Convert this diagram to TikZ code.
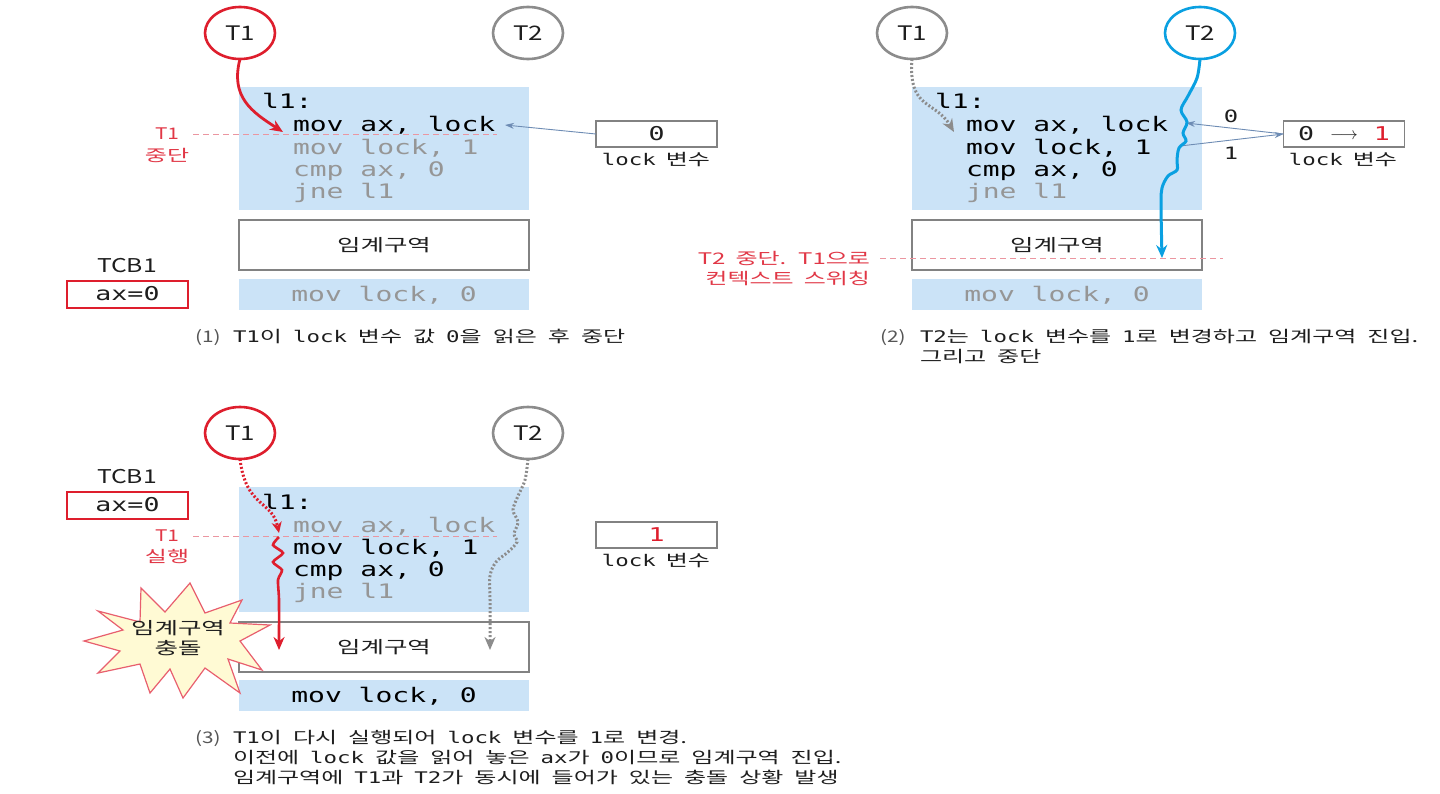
\documentclass[tikz,border=0pt]{standalone}
\usepackage{fontspec}
\setmainfont{Noto Sans CJK KR}[FakeStretch=1.5]
\newfontfamily\lat{Noto Sans CJK KR}[FakeStretch=1.3]
\newfontfamily\mono{DejaVu Sans Mono}[FakeStretch=1.4]
\newcommand\mt[1]{{\mono #1}}
\newcommand\lblfont{\fontsize{16}{16}\selectfont\spaceskip 10pt\relax}
\newcommand\capfont{\fontsize{16}{16}\selectfont\spaceskip 11pt\relax}
\usetikzlibrary{arrows.meta,calc,shapes.geometric}
\definecolor{codebg}{RGB}{203,227,247}
\definecolor{tred}{RGB}{222,30,45}
\definecolor{lred}{RGB}{225,55,70}
\definecolor{dashpink}{RGB}{235,150,160}
\definecolor{tgray}{RGB}{140,140,140}
\definecolor{codegray}{RGB}{150,150,150}
\definecolor{tblue}{RGB}{10,160,225}
\definecolor{arrblue}{RGB}{110,140,180}
\definecolor{boxgray}{RGB}{130,130,130}
\definecolor{txt}{RGB}{30,30,30}
\definecolor{starfill}{RGB}{255,250,212}
\definecolor{starline}{RGB}{232,95,110}
\tikzset{
 every node/.style={inner sep=0pt, outer sep=0pt},
 thr/.style={ellipse, draw, line width=2.6pt, fill=white, minimum width=70pt, minimum height=52pt, font=\lat\fontsize{20}{20}\selectfont, text=txt},
 cbox/.style={fill=codebg, minimum width=290pt, anchor=north west},
 code/.style={anchor=base west, font=\mono\fontsize{20}{20}\selectfont, text=black},
 codeg/.style={code, text=codegray},
 crit/.style={draw=boxgray, line width=2pt, fill=white, minimum width=290pt, minimum height=50pt, anchor=north west},
 crittxt/.style={font=\fontsize{17}{17}\selectfont, text=txt},
 var/.style={draw=boxgray, line width=1.6pt, minimum width=121pt, minimum height=26pt, font=\mono\fontsize{19}{19}\selectfont, text=txt},
 tcb/.style={draw=tred, line width=2pt, minimum width=121pt, minimum height=27pt, font=\mono\fontsize{19}{19}\selectfont, text=txt},
 tcbl/.style={font=\lat\fontsize{19}{19}\selectfont, text=txt},
 lbl/.style={font=\lblfont, text=txt},
 redlbl/.style={font=\lblfont, text=lred},
 captxt/.style={anchor=base west, font=\capfont, text=txt},
 capnum/.style={anchor=base west, font=\lat\fontsize{16}{16}\selectfont, text=txt!75},
 dl/.style={draw=dashpink, line width=1pt, dash pattern=on 6pt off 4pt},
 lk/.style={draw=arrblue, line width=0.9pt, -{Stealth[length=9pt,width=6pt]}},
}
\begin{document}
\begin{tikzpicture}[x=1pt,y=-1pt]
\useasboundingbox[fill=white] (0,0) rectangle (1440,793);

% ================= Panel 1 =================
\node[thr, draw=tred] (p1t1) at (240,33) {T1};
\node[thr, draw=tgray] (p1t2) at (528,33) {T2};
\node[cbox, minimum height=123pt] (p1code) at (239,87) {};
\node[code] (p1l0) at (262,108.5) {l1:};
\node[code] (p1l1) at (293,131) {mov ax, lock};
\node[codeg] (p1l2) at (293,154) {mov lock, 1};
\node[codeg] (p1l3) at (293,176) {cmp ax, 0};
\node[codeg] (p1l4) at (293,198) {jne l1};
\coordinate (p1da) at (193,134);
\coordinate (p1db) at (497,134);
\draw[dl] (p1da) -- (p1db);
\node[redlbl, font=\lat\fontsize{16}{16}\selectfont] (p1r1) at (167,134) {T1};
\node[redlbl] (p1r2) at (167,155) {중단};
\node[crit] (p1crit) at (239,220) {};
\node[crittxt] (p1critt) at (p1crit.center) {임계구역};
\node[cbox, minimum height=31pt] (p1rel) at (239,279) {};
\node[codeg, anchor=center] (p1relt) at (384,295) {mov lock, 0};
\node[tcbl] (p1tcb) at (127,266) {TCB1};
\node[tcb] (p1ax) at (127.5,294) {ax=0};
\node[var] (p1var) at (656.5,134) {0};
\node[lbl] (p1vl) at (656,160) {\mt{lock} 변수};
\coordinate (p1ae) at (505,125);
\draw[lk] (p1var.west) -- (p1ae);
\coordinate (p1ah) at (283,132);
\draw[tred, line width=2.8pt, -{Stealth[length=13pt,width=11pt]}] (p1t1.south) .. controls (230,97) and (252,112) .. (p1ah);
\node[capnum] (p1cn) at (195,342) {(1)};
\node[captxt] (p1c) at (233,342) {\mt{T1}이 \mt{lock} 변수 값 \mt{0}을 읽은 후 중단};

% ================= Panel 2 =================
\node[thr, draw=tgray] (p2t1) at (912,33) {T1};
\node[thr, draw=tblue] (p2t2) at (1200,33) {T2};
\node[cbox, minimum height=123pt] (p2code) at (912,87) {};
\node[code] (p2l0) at (935,108.5) {l1:};
\node[code] (p2l1) at (966,131) {mov ax, lock};
\node[code] (p2l2) at (966,154) {mov lock, 1};
\node[code] (p2l3) at (966,176) {cmp ax, 0};
\node[codeg] (p2l4) at (966,198) {jne l1};
\node[crit] (p2crit) at (912,220) {};
\node[crittxt] (p2critt) at (p2crit.center) {임계구역};
\node[cbox, minimum height=31pt] (p2rel) at (912,279) {};
\node[codeg, anchor=center] (p2relt) at (1057,295) {mov lock, 0};
\coordinate (p2da) at (880,258);
\coordinate (p2db) at (1223,258);
\draw[dl] (p2da) -- (p2db);
\node[redlbl, anchor=east] (p2r1) at (870,258) {T2 중단. T1으로};
\node[redlbl, anchor=east] (p2r2) at (870,279) {컨텍스트 스위칭};
\node[var] (p2var) at (1344,134) {0 \raisebox{1pt}{\(\longrightarrow\)} \textcolor{tred}{1}};
\node[lbl] (p2vl) at (1343,160) {\mt{lock} 변수};
\coordinate (p2ae) at (1186,123);
\coordinate (p2as) at (1180,146);
\draw[lk] (p2var.west) -- (p2ae);
\draw[lk] (p2as) -- (p2var.west);
\node[font=\mono\fontsize{17}{17}\selectfont, text=txt] (p2n0) at (1231,116) {0};
\node[font=\mono\fontsize{17}{17}\selectfont, text=txt] (p2n1) at (1231,153) {1};
\coordinate (p2t1e) at (954,132);
\draw[tgray, line width=3pt, dash pattern=on 2pt off 2pt, -{Stealth[length=13pt,width=11pt]}] (p2t1.south) .. controls (908,110) and (935,100) .. (p2t1e);
\coordinate (p2t2e) at (1162,258);
\draw[tblue, line width=3pt, -{Stealth[length=13pt,width=11pt]}] plot[smooth, tension=0.55] coordinates {(p2t2.south) (1197,78) (1188,96) (1181,110) (1187,122) (1183,133) (1186,141) (1179,148) (1177,160) (1177,170) (1168,176) (1162,188) (1161,205) (p2t2e)};
\node[capnum] (p2cn) at (880,342) {(2)};
\node[captxt] (p2c1) at (920,342) {\mt{T2}는 \mt{lock} 변수를 \mt{1}로 변경하고 임계구역 진입.};
\node[captxt] (p2c2) at (920,362) {그리고 중단};

% ================= Panel 3 =================
\node[thr, draw=tred] (p3t1) at (240,433) {T1};
\node[thr, draw=tgray] (p3t2) at (528,433) {T2};
\node[tcbl] (p3tcb) at (127,477) {TCB1};
\node[tcb] (p3ax) at (127.5,505) {ax=0};
\node[cbox, minimum height=125pt] (p3code) at (239,487) {};
\node[code] (p3l0) at (262,509) {l1:};
\node[codeg] (p3l1) at (293,532) {mov ax, lock};
\node[code] (p3l2) at (293,554) {mov lock, 1};
\node[code] (p3l3) at (293,576) {cmp ax, 0};
\node[codeg] (p3l4) at (293,598) {jne l1};
\coordinate (p3da) at (193,536);
\coordinate (p3db) at (497,536);
\draw[dl] (p3da) -- (p3db);
\node[redlbl, font=\lat\fontsize{16}{16}\selectfont] (p3r1) at (167,536) {T1};
\node[redlbl] (p3r2) at (167,556) {실행};
\node[crit] (p3crit) at (239,622) {};
\node[crittxt] (p3critt) at (p3crit.center) {임계구역};
\node[cbox, minimum height=31pt] (p3rel) at (239,680) {};
\node[code, anchor=center] (p3relt) at (384,696) {mov lock, 0};
\node[var] (p3var) at (656.5,535) {\textcolor{tred}{1}};
\node[lbl] (p3vl) at (656,561) {\mt{lock} 변수};
% T1 path
\coordinate (p3a1) at (279,533);
\draw[tred, line width=3pt, dash pattern=on 2pt off 2pt, -{Stealth[length=11pt,width=10pt]}] (p3t1.south) .. controls (246,508) and (272,500) .. (p3a1);
\coordinate (p3w0) at (279,537);
\coordinate (p3a2) at (279,650);
\draw[tred, line width=2.6pt, -{Stealth[length=13pt,width=11pt]}] plot[smooth, tension=0.4] coordinates {(p3w0) (273,545) (283,553) (273,562) (282,570) (278,580) (279,600) (p3a2)};
% T2 path
\coordinate (p3b2) at (490,650);
\draw[tgray, line width=3pt, dash pattern=on 2pt off 2pt, -{Stealth[length=13pt,width=11pt]}] plot[smooth, tension=0.55] coordinates {(p3t2.south) (525,480) (518,496) (513,510) (518,522) (514,534) (517,542) (508,552) (496,562) (490,576) (490,600) (p3b2)};
% star
\draw[starline, fill=starfill, line width=1.2pt] (98,611) -- (140,622) -- (141,588) -- (165,612) -- (190,583) -- (205,613) -- (242,600) -- (230,623) -- (270,625) -- (240,641) -- (262,670) -- (228,659) -- (240,693) -- (205,668) -- (183,698) -- (170,669) -- (150,693) -- (140,664) -- (98,673) -- (120,651) -- (84,641) -- (123,630) -- cycle;
\node[font=\fontsize{17}{20}\selectfont, text=txt, align=center] (crash) at (178,638) {임계구역\\충돌};
\node[capnum] (p3cn) at (195,743) {(3)};
\node[captxt] (p3c1) at (233,743) {\mt{T1}이 다시 실행되어 \mt{lock} 변수를 \mt{1}로 변경.};
\node[captxt] (p3c2) at (233,763) {이전에 \mt{lock} 값을 읽어 놓은 \mt{ax}가 \mt{0}이므로 임계구역 진입.};
\node[captxt] (p3c3) at (233,783) {임계구역에 \mt{T1}과 \mt{T2}가 동시에 들어가 있는 충돌 상황 발생};
\end{tikzpicture}
\end{document}
